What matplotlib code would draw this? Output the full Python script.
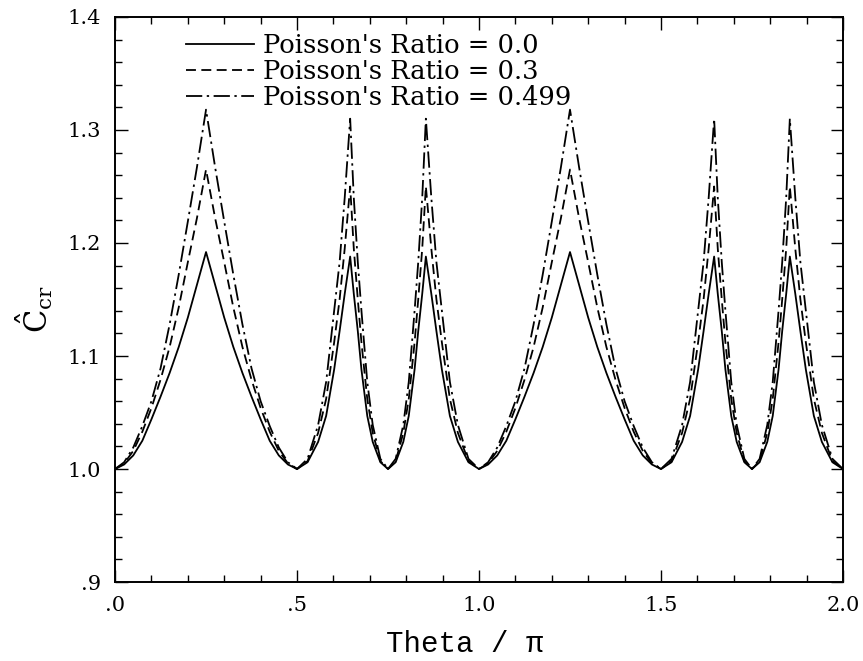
import matplotlib
matplotlib.use("Agg")
import matplotlib.pyplot as plt
from matplotlib.ticker import MultipleLocator

# theta / pi sample positions
theta = [
    0.000, 0.025, 0.050, 0.075, 0.100, 0.125, 0.150, 0.175, 0.200, 0.225, 0.250,
    0.275, 0.300, 0.325, 0.350, 0.375, 0.400, 0.425, 0.450, 0.475, 0.500,
    0.529, 0.558, 0.580, 0.602, 0.617, 0.631, 0.646,
    0.656, 0.667, 0.677, 0.693, 0.708, 0.729, 0.750,
    0.771, 0.792, 0.807, 0.823, 0.833, 0.844, 0.854,
    0.869, 0.883, 0.898, 0.920, 0.942, 0.971, 1.000,
    1.025, 1.050, 1.075, 1.100, 1.125, 1.150, 1.175, 1.200, 1.225, 1.250,
    1.275, 1.300, 1.325, 1.350, 1.375, 1.400, 1.425, 1.450, 1.475, 1.500,
    1.529, 1.558, 1.580, 1.602, 1.617, 1.631, 1.646,
    1.656, 1.667, 1.677, 1.693, 1.708, 1.729, 1.750,
    1.771, 1.792, 1.807, 1.823, 1.833, 1.844, 1.854,
    1.869, 1.883, 1.898, 1.920, 1.942, 1.971, 2.000,
]

# Poisson's ratio = 0.0
c_nu00 = [
    1.000, 1.004, 1.012, 1.025, 1.044, 1.064, 1.085, 1.108, 1.134, 1.163, 1.192,
    1.163, 1.134, 1.108, 1.085, 1.064, 1.044, 1.025, 1.012, 1.004, 1.000,
    1.006, 1.024, 1.047, 1.088, 1.122, 1.155, 1.188,
    1.155, 1.122, 1.088, 1.047, 1.024, 1.006, 1.000,
    1.006, 1.024, 1.047, 1.088, 1.122, 1.155, 1.188,
    1.155, 1.122, 1.088, 1.047, 1.024, 1.006, 1.000,
    1.004, 1.012, 1.025, 1.044, 1.064, 1.085, 1.108, 1.134, 1.163, 1.192,
    1.163, 1.134, 1.108, 1.085, 1.064, 1.044, 1.025, 1.012, 1.004, 1.000,
    1.006, 1.024, 1.047, 1.088, 1.122, 1.155, 1.188,
    1.155, 1.122, 1.088, 1.047, 1.024, 1.006, 1.000,
    1.006, 1.024, 1.047, 1.088, 1.122, 1.155, 1.188,
    1.155, 1.122, 1.088, 1.047, 1.024, 1.006, 1.000,
]

# Poisson's ratio = 0.3
c_nu03 = [
    1.000, 1.005, 1.016, 1.033, 1.054, 1.079, 1.108, 1.143, 1.183, 1.222, 1.265,
    1.222, 1.183, 1.143, 1.108, 1.079, 1.054, 1.033, 1.016, 1.005, 1.000,
    1.007, 1.032, 1.062, 1.112, 1.150, 1.195, 1.250,
    1.195, 1.150, 1.112, 1.062, 1.032, 1.007, 1.000,
    1.007, 1.032, 1.062, 1.112, 1.150, 1.195, 1.250,
    1.195, 1.150, 1.112, 1.062, 1.032, 1.007, 1.000,
    1.005, 1.016, 1.033, 1.054, 1.079, 1.108, 1.143, 1.183, 1.222, 1.265,
    1.222, 1.183, 1.143, 1.108, 1.079, 1.054, 1.033, 1.016, 1.005, 1.000,
    1.007, 1.032, 1.062, 1.112, 1.150, 1.195, 1.250,
    1.195, 1.150, 1.112, 1.062, 1.032, 1.007, 1.000,
    1.007, 1.032, 1.062, 1.112, 1.150, 1.195, 1.250,
    1.195, 1.150, 1.112, 1.062, 1.032, 1.007, 1.000,
]

# Poisson's ratio = 0.499
c_nu0499 = [
    1.000, 1.006, 1.019, 1.038, 1.060, 1.089, 1.128, 1.172, 1.219, 1.267, 1.318,
    1.267, 1.219, 1.172, 1.128, 1.089, 1.060, 1.038, 1.019, 1.006, 1.000,
    1.009, 1.039, 1.077, 1.140, 1.183, 1.240, 1.310,
    1.240, 1.183, 1.140, 1.077, 1.039, 1.009, 1.000,
    1.009, 1.039, 1.077, 1.140, 1.183, 1.240, 1.310,
    1.240, 1.183, 1.140, 1.077, 1.039, 1.009, 1.000,
    1.006, 1.019, 1.038, 1.060, 1.089, 1.128, 1.172, 1.219, 1.267, 1.318,
    1.267, 1.219, 1.172, 1.128, 1.089, 1.060, 1.038, 1.019, 1.006, 1.000,
    1.009, 1.039, 1.077, 1.140, 1.183, 1.240, 1.310,
    1.240, 1.183, 1.140, 1.077, 1.039, 1.009, 1.000,
    1.009, 1.039, 1.077, 1.140, 1.183, 1.240, 1.310,
    1.240, 1.183, 1.140, 1.077, 1.039, 1.009, 1.000,
]

labels = ["Poisson's Ratio = 0.0", "Poisson's Ratio = 0.3", "Poisson's Ratio = 0.499"]
xticks = [0.0, 0.5, 1.0, 1.5, 2.0]
xtick_labels = [".0", ".5", "1.0", "1.5", "2.0"]
yticks = [0.9, 1.0, 1.1, 1.2, 1.3, 1.4]
ytick_labels = [".9", "1.0", "1.1", "1.2", "1.3", "1.4"]

plt.rcParams["font.family"] = ["DejaVu Serif"]
plt.rcParams["mathtext.fontset"] = "dejavuserif"

fig = plt.figure(figsize=(8.63, 6.61), dpi=100)
ax = fig.add_axes([0.1333, 0.1195, 0.8435, 0.8548])

lw = 1.3
ax.plot(theta, c_nu00, color="black", lw=lw, linestyle="-", label=labels[0])
ax.plot(theta, c_nu03, color="black", lw=lw, linestyle=(0, (5.5, 3)), label=labels[1])
ax.plot(theta, c_nu0499, color="black", lw=lw, linestyle=(0, (9, 2.5, 1.3, 2.5)), label=labels[2])

ax.set_xlim(0, 2)
ax.set_ylim(0.9, 1.4)
ax.set_xticks(xticks)
ax.set_xticklabels(xtick_labels)
ax.set_yticks(yticks)
ax.set_yticklabels(ytick_labels)
ax.xaxis.set_minor_locator(MultipleLocator(0.1))
ax.yaxis.set_minor_locator(MultipleLocator(0.02))
ax.tick_params(which="both", direction="in", top=True, right=True,
               width=1.0, labelsize=15, pad=10)
ax.tick_params(which="major", length=9)
ax.tick_params(which="minor", length=5)
for s in ax.spines.values():
    s.set_linewidth(1.4)

ax.set_xlabel("Theta / \u03c0", fontsize=21, family="Liberation Mono")
ax.xaxis.set_label_coords(0.481, -0.085)
ax.set_ylabel(r"$\hat{\mathrm{C}}_{\mathrm{cr}}$", fontsize=22)
ax.yaxis.set_label_coords(-0.082, 0.483)

ax.legend(loc="upper left", bbox_to_anchor=(0.098, 0.972), frameon=False,
          fontsize=18.5, handlelength=2.65, handletextpad=0.35, labelspacing=0.05,
          borderpad=0, borderaxespad=0)

fig.savefig("out.png", dpi=100)
